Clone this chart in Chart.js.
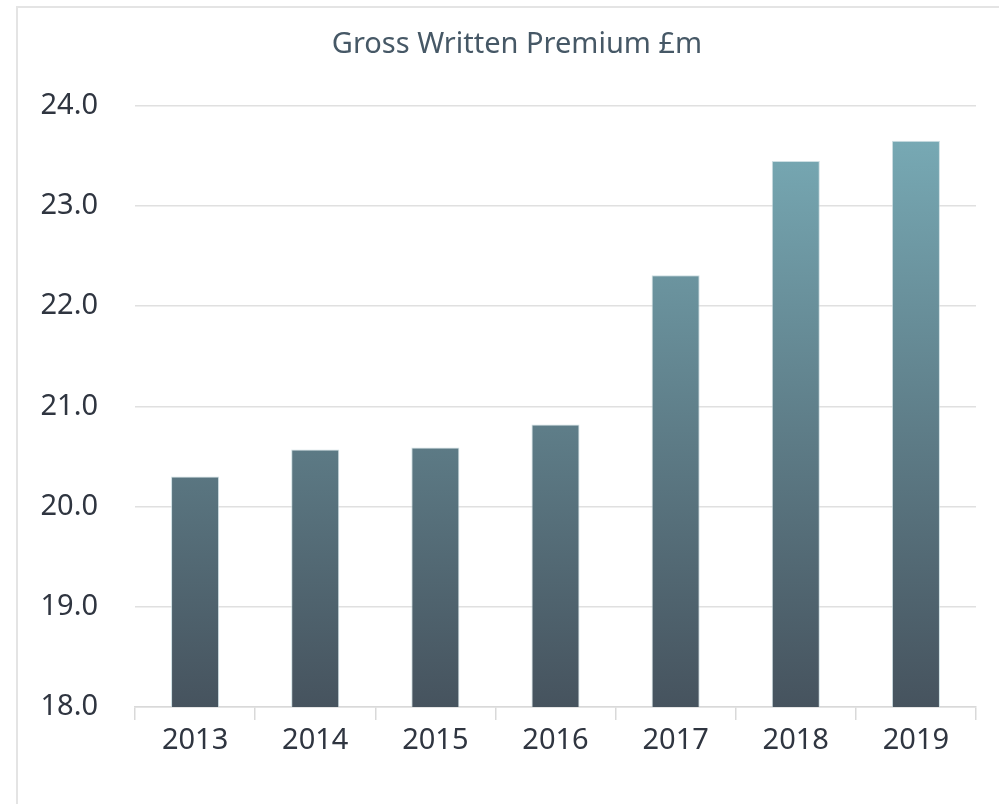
<!DOCTYPE html>
<html>
<head>
<meta charset="utf-8">
<title>Gross Written Premium</title>
<script src="https://cdn.jsdelivr.net/npm/chart.js@4.4.1/dist/chart.umd.min.js"></script>
<style>
  html, body { margin: 0; padding: 0; background: #fff; overflow: hidden; }
  .frame {
    position: absolute; left: 16px; top: 6px;
    width: 1200px; height: 1000px;
    border-left: 2px solid #e4e4e4; border-top: 2px solid #e4e4e4;
  }
  #chart { position: absolute; left: 0; top: 0; }
</style>
</head>
<body>
<div class="frame"></div>
<canvas id="chart" width="999" height="804"></canvas>
<script>
const years = ['2013', '2014', '2015', '2016', '2017', '2018', '2019'];
const premium = [20.30, 20.57, 20.59, 20.82, 22.31, 23.45, 23.65];
const yMin = 18.0;
const yMax = 24.0;

const labelFont = { family: "'Noto Sans', sans-serif", size: 29 };
const labelColor = '#2f3540';
const lineColor = '#e0e0e0';

// bar fill runs dark slate at the baseline to teal at the top of the plot
function barFill(context) {
  const { ctx, chartArea } = context.chart;
  if (!chartArea) return '#5c7581';
  const g = ctx.createLinearGradient(0, chartArea.bottom, 0, chartArea.top);
  g.addColorStop(0, '#46535e');
  g.addColorStop(1, '#7aaeb9');
  return g;
}

// nudge the title block so the heading sits a little right of canvas centre
const titleShift = {
  id: 'titleShift',
  afterLayout(chart) {
    if (chart.titleBlock) chart.titleBlock.left = 58;
  }
};

const ctx = document.getElementById('chart');
const myChart = new Chart(ctx, {
  type: 'bar',
  data: {
    labels: years,
    datasets: [{
      label: 'Gross Written Premium £m',
      data: premium,
      backgroundColor: barFill,
      borderColor: 'rgba(190, 212, 218, 0.75)',
      borderWidth: 1,
      barPercentage: 0.4,
      categoryPercentage: 1.0
    }]
  },
  options: {
    responsive: false,
    animation: false,
    layout: { padding: { left: 0, right: 23, top: 0, bottom: 0 } },
    scales: {
      x: {
        grid: {
          offset: true,
          drawOnChartArea: false,
          drawTicks: true,
          tickLength: 13,
          color: '#d9d9d9',
          lineWidth: 1.5
        },
        border: { display: true, color: '#d9d9d9', width: 1.5 },
        ticks: { font: labelFont, color: labelColor, padding: 3 },
        afterFit: (scale) => { scale.height = 97; }
      },
      y: {
        min: yMin,
        max: yMax,
        grid: { color: lineColor, lineWidth: 1.5, drawTicks: false },
        border: { display: false },
        ticks: {
          stepSize: 1,
          padding: 37,
          font: labelFont,
          color: labelColor,
          callback: (value) => value.toFixed(1)
        },
        afterFit: (scale) => { scale.width = 135; }
      }
    },
    plugins: {
      legend: { display: false },
      tooltip: { enabled: false },
      title: {
        display: true,
        text: 'Gross Written Premium £m',
        color: '#465866',
        font: { family: "'Noto Sans', sans-serif", size: 29, weight: 'normal' },
        padding: { top: 27, bottom: 44 }
      }
    }
  },
  plugins: [titleShift]
});
</script>
</body>
</html>
